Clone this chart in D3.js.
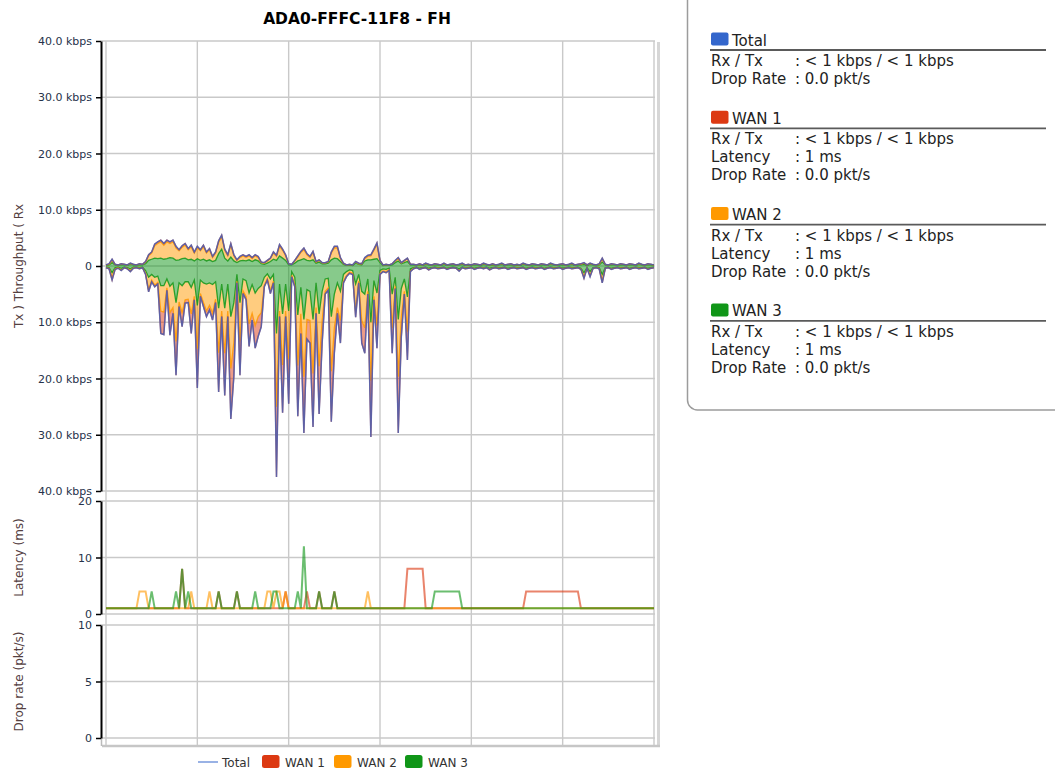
<!DOCTYPE html>
<meta charset="utf-8">
<style>
body { margin: 0; background: #fff; }
svg { font-family: "DejaVu Sans", Verdana, sans-serif; }
.grid line { stroke: #c9c9c9; stroke-width: 1.4px; }
.axis path { stroke: #000; stroke-width: 2px; }
.axis line { stroke: #000; stroke-width: 1.5px; }
.axis text { fill: #26324a; font-size: 11px; }
.ytitle { fill: #54403f; font-size: 12px; }
.info text { fill: #222; font-size: 15px; }
</style>
<body>
<svg width="1055" height="770"></svg>
<script src="https://d3js.org/d3.v7.min.js"></script>
<script>
// throughput, Rx side (kbps), one sample every slot on the time axis
var rx3 = [0.1,0.2,0.6,0.2,0.1,0.2,0.2,0.1,0.3,0.2,
  0.1,0.2,0.2,0.4,1.0,1.2,1.4,1.3,1.4,1.2,
  1.3,1.5,1.4,1.0,1.1,1.3,1.4,1.1,1.2,0.9,
  1.3,1.0,1.2,0.9,1.1,0.8,1.0,2.2,3.0,1.4,
  0.9,1.6,0.9,0.6,0.9,1.0,0.9,1.1,0.8,1.1,
  0.9,0.4,0.3,0.5,0.8,1.2,1.0,1.8,1.4,1.0,
  0.2,0.2,0.5,0.9,1.1,1.3,1.0,0.9,1.1,0.5,
  0.7,0.4,0.4,0.5,1.1,1.4,1.3,0.8,0.3,0.1,
  0.2,0.1,0.5,0.3,0.2,0.9,1.1,1.1,1.2,1.3,
  0.6,0.1,0.2,0.1,0.2,0.6,0.9,0.4,0.6,0.8,
  0.2,
  0.2,0.1,0.2,0.1,0.3,0.2,0.1,0.2,0.2,0.1,
  0.3,0.1,0.2,0.2,0.1,0.2,0.3,0.1,0.2,0.1,
  0.2,0.2,0.1,0.3,0.2,0.1,0.2,0.1,0.2,0.3,
  0.1,0.2,0.2,0.1,0.2,0.1,0.3,0.2,0.1,0.2,
  0.2,0.1,0.2,0.2,0.1,0.3,0.2,0.1,0.2,0.2,
  0.1,0.2,0.3,0.1,0.2,0.2,0.3,0.1,0.3,0.2,
  0.1,0.2,0.7,0.2,0.1,0.2,0.2,0.1,0.2,0.2,
  0.1,0.2,0.2,0.1,0.3,0.2,0.1,0.2,0.2,0.1];
var rx2 = [0.1,0.1,0.4,0.1,0.1,0.1,0.1,0.1,0.1,0.1,
  0.1,0.1,0.1,0.3,0.8,1.1,2.2,2.7,2.9,2.5,
  3.0,2.5,2.9,2.2,1.6,2.0,2.3,1.8,2.2,1.4,
  1.9,1.7,2.2,1.4,1.8,0.7,1.3,2.0,2.2,1.4,
  0.9,2.1,0.9,0.4,0.6,0.8,0.6,0.7,0.5,0.7,
  0.6,0.2,0.2,0.4,0.5,1.1,0.7,1.7,1.4,0.8,
  0.2,0.1,0.4,0.7,1.3,1.6,1.0,0.6,1.3,0.2,
  0.3,0.1,0.1,0.2,1.2,1.8,1.9,0.5,0.1,0.1,
  0.1,0.1,0.2,0.1,0.2,0.4,0.6,0.7,1.6,2.5,
  0.3,0.1,0.1,0.1,0.2,0.3,0.4,0.1,0.3,0.5,
  0.1,
  0.1,0.1,0.1,0.1,0.1,0.1,0.1,0.1,0.1,0.1,
  0.1,0.1,0.1,0.1,0.1,0.1,0.1,0.1,0.1,0.1,
  0.1,0.1,0.1,0.1,0.1,0.1,0.1,0.1,0.1,0.1,
  0.1,0.1,0.1,0.1,0.1,0.1,0.1,0.1,0.1,0.1,
  0.1,0.1,0.1,0.1,0.1,0.1,0.1,0.1,0.1,0.1,
  0.1,0.1,0.1,0.1,0.1,0.1,0.2,0.1,0.1,0.1,
  0.1,0.1,0.5,0.1,0.1,0.1,0.1,0.1,0.1,0.1,
  0.1,0.1,0.1,0.1,0.1,0.1,0.1,0.1,0.1,0.1];
var rx1 = [0,0.1,0.2,0,0,0.1,0,0,0.1,0,
  0,0.1,0,0.1,0.2,0.2,0.3,0.3,0.3,0.3,
  0.3,0.3,0.3,0.3,0.2,0.3,0.3,0.2,0.3,0.2,
  0.3,0.2,0.3,0.2,0.2,0.2,0.2,0.3,0.3,0.2,
  0.2,0.3,0.2,0.1,0.2,0.2,0.2,0.2,0.2,0.2,
  0.2,0.1,0.1,0.1,0.1,0.2,0.2,0.3,0.2,0.2,
  0,0,0.1,0.2,0.2,0.3,0.2,0.2,0.2,0.1,
  0.1,0.1,0.1,0.1,0.2,0.3,0.3,0.2,0.1,0,
  0,0,0.1,0.1,0,0.2,0.2,0.2,0.2,0.3,
  0.1,0,0,0,0,0.1,0.2,0.1,0.1,0.1,
  0,
  0,0,0.1,0,0.1,0,0,0.1,0,0,
  0.1,0,0,0.1,0,0,0.1,0,0,0,
  0.1,0,0,0.1,0,0,0.1,0,0,0.1,
  0,0,0.1,0,0,0,0.1,0,0,0.1,
  0,0,0.1,0,0,0.1,0,0,0,0.1,
  0,0,0.1,0,0,0.1,0.1,0,0.1,0,
  0,0.1,0.2,0,0,0.1,0,0,0.1,0,
  0,0.1,0,0,0.1,0,0,0.1,0,0];

// throughput, Tx side (kbps, drawn below zero)
var tx3 = [0.2,0.3,1.2,0.3,0.2,0.4,0.2,0.3,0.5,0.2,
  0.2,0.3,0.2,0.8,2.0,1.5,2.0,1.8,3.5,3.5,
  2.3,3.6,3.0,6.5,3.0,3.5,2.8,2.8,3.8,2.5,
  7.0,2.5,3.0,3.2,3.0,3.3,2.8,7.5,3.2,7.5,
  3.2,9.0,6.5,1.5,6.5,2.3,2.6,4.8,3.3,4.8,
  4.0,3.5,2.0,1.4,2.3,1.5,12.0,3.2,8.5,3.2,
  8.0,1.0,2.0,8.7,3.8,9.5,4.2,4.5,9.5,3.0,
  8.5,4.5,2.3,2.2,9.0,5.0,3.0,4.5,1.5,1.0,
  0.7,0.8,3.2,1.5,4.5,5.0,2.3,10.0,2.6,4.8,
  0.8,0.5,0.6,0.4,5.0,2.0,9.5,4.0,2.3,5.5,
  0.5,
  0.3,0.2,0.4,0.3,0.2,0.4,0.3,0.2,0.3,0.3,
  0.2,0.4,0.3,0.2,0.3,0.5,0.2,0.3,0.3,0.2,
  0.4,0.3,0.2,0.3,0.2,0.4,0.3,0.2,0.3,0.3,
  0.2,0.4,0.3,0.2,0.3,0.3,0.2,0.4,0.3,0.2,
  0.3,0.3,0.2,0.4,0.3,0.2,0.3,0.3,0.2,0.4,
  0.3,0.2,0.3,0.3,0.2,0.4,1.2,0.3,1.0,0.3,
  0.2,0.3,1.5,0.3,0.2,0.4,0.3,0.2,0.3,0.3,
  0.2,0.4,0.3,0.2,0.3,0.3,0.2,0.4,0.3,0.2];
var tx2 = [0.1,0.1,0.8,0.2,0.1,0.3,0.1,0.1,0.3,0.1,
  0.1,0.1,0.1,0.5,2.2,1.0,1.4,1.1,4.5,4.7,
  1.6,4.7,4.4,6.9,3.4,4.8,3.2,3.1,4.7,2.9,
  7.7,2.4,3.5,4.8,4.0,5.1,3.1,7.9,4.8,8.0,
  4.8,9.2,7.1,1.2,6.9,2.1,2.8,5.5,5.1,5.8,
  5.0,4.8,1.4,0.8,2.1,1.2,13.0,4.8,9.1,4.8,
  8.5,0.7,1.4,9.0,4.7,10.2,5.3,5.2,9.6,4.4,
  9.3,5.2,2.2,1.7,9.7,6.0,4.4,5.2,1.2,0.7,
  0.4,0.5,4.9,1.2,5.2,6.0,2.2,10.4,2.8,5.8,
  0.5,0.4,0.4,0.3,6.0,1.6,10.2,5.1,2.2,6.2,
  0.4,
  0.1,0.1,0.1,0.1,0.1,0.2,0.1,0.1,0.1,0.1,
  0.1,0.1,0.1,0.1,0.1,0.3,0.1,0.1,0.1,0.1,
  0.1,0.1,0.1,0.1,0.1,0.2,0.1,0.1,0.1,0.1,
  0.1,0.1,0.1,0.1,0.1,0.1,0.1,0.1,0.1,0.1,
  0.1,0.1,0.1,0.1,0.1,0.1,0.1,0.1,0.1,0.1,
  0.1,0.1,0.1,0.1,0.1,0.1,0.7,0.1,0.6,0.1,
  0.1,0.1,1.1,0.1,0.1,0.1,0.1,0.1,0.1,0.1,
  0.1,0.1,0.1,0.1,0.1,0.1,0.1,0.1,0.1,0.1];
var tx1 = [0,0.1,0.5,0.1,0.1,0.1,0,0.1,0.2,0.1,
  0,0.1,0,0.2,0.4,0.3,0.3,0.3,4.0,4.0,
  0.4,4.0,1.0,6.0,0.8,2.5,0.6,0.6,3.5,0.6,
  7.0,0.5,0.7,1.0,0.8,1.2,0.6,7.0,1.0,7.5,
  1.0,9.0,6.0,0.3,6.0,0.5,0.6,4.0,1.2,4.0,
  3.5,2.5,0.3,0.3,0.5,0.3,12.5,1.0,8.5,1.0,
  8.0,0.2,0.3,9.0,3.5,10.0,3.5,4.0,9.5,1.0,
  8.5,4.0,0.5,0.4,9.0,4.5,1.0,4.0,0.3,0.2,
  0.2,0.2,1.0,0.3,4.0,4.5,0.5,10.0,0.6,4.0,
  0.2,0.1,0.2,0.1,4.5,0.4,10.0,3.5,0.5,5.0,
  0.1,
  0.1,0,0.1,0,0,0.1,0,0,0.1,0,
  0,0.1,0,0,0,0.1,0,0.1,0,0,
  0.1,0,0,0.1,0,0.1,0,0,0.1,0,
  0,0.1,0,0,0.1,0,0,0.1,0,0,
  0.1,0,0,0.1,0,0,0.1,0,0,0.1,
  0,0,0.1,0,0,0.1,0.3,0,0.3,0,
  0,0.1,0.4,0,0,0.1,0,0,0.1,0,
  0,0.1,0,0,0.1,0,0,0.1,0,0];

// latency (ms) per WAN
var lat1 = [1,1,1,1,1,1,1,1,1,1,1,1,1,1,1,1,1,1,1,1,
  1,1,1,1,1,8,1,1,1,1,1,1,1,1,1,1,1,4,1,1,
  1,1,1,4,1,1,1,1,1,1,1,1,1,1,1,1,1,1,1,4,
  1,1,1,1,1,1,4,1,1,1,4,1,1,1,1,4,1,1,1,1,
  1,1,1,1,1,1,1,1,1,1,1,1,1,1,1,1,1,1,1,8,
  8,8,8,8,8,1,1,1,1,1,1,1,1,1,1,1,1,1,1,1,
  1,1,1,1,1,1,1,1,1,1,1,1,1,1,1,1,1,1,4,4,
  4,4,4,4,4,4,4,4,4,4,4,4,4,4,4,4,1,1,1,1,
  1,1,1,1,1,1,1,1,1,1,1,1,1,1,1,1,1,1,1,1,
  1];
var lat2 = [1,1,1,1,1,1,1,1,1,1,1,4,4,4,1,1,1,1,1,1,
  1,1,1,1,1,1,1,1,4,1,1,1,1,1,4,1,1,1,1,1,
  1,1,1,1,1,1,1,1,1,1,1,1,1,4,4,1,4,4,1,4,
  1,1,1,1,1,1,1,1,1,1,1,1,1,1,1,1,1,1,1,1,
  1,1,1,1,1,1,4,1,1,1,1,1,1,1,1,1,1,1,1,1,
  1,1,1,1,1,1,1,1,1,1,1,1,1,1,1,1,1,1,1,1,
  1,1,1,1,1,1,1,1,1,1,1,1,1,1,1,1,1,1,1,1,
  1,1,1,1,1,1,1,1,1,1,1,1,1,1,1,1,1,1,1,1,
  1,1,1,1,1,1,1,1,1,1,1,1,1,1,1,1,1,1,1,1,
  1];
var lat3 = [1,1,1,1,1,1,1,1,1,1,1,1,1,1,1,4,1,1,1,1,
  1,1,1,4,1,8,1,4,1,1,1,1,1,1,1,1,1,4,1,1,
  1,1,1,4,1,1,1,1,1,4,1,1,1,1,1,4,4,1,1,1,
  1,1,1,4,1,12,1,1,1,1,4,1,1,1,1,4,1,1,1,1,
  1,1,1,1,1,1,1,1,1,1,1,1,1,1,1,1,1,1,1,1,
  1,1,1,1,1,1,1,1,4,4,4,4,4,4,4,4,4,1,1,1,
  1,1,1,1,1,1,1,1,1,1,1,1,1,1,1,1,1,1,1,1,
  1,1,1,1,1,1,1,1,1,1,1,1,1,1,1,1,1,1,1,1,
  1,1,1,1,1,1,1,1,1,1,1,1,1,1,1,1,1,1,1,1,
  1];

var seriesNames = ["Total", "WAN 1", "WAN 2", "WAN 3"];
var seriesColors = ["#3366cc", "#dc3912", "#ff9900", "#109618"];
var timeTicks = [0, 30, 60, 90, 120, 150, 180];
var thrTicks = [-40, -30, -20, -10, 0, 10, 20, 30, 40];
var latTicks = [0, 10, 20];
var dropTicks = [0, 5, 10];
var infoLabels = [["Rx / Tx", "Drop Rate"],
                  ["Rx / Tx", "Latency", "Drop Rate"],
                  ["Rx / Tx", "Latency", "Drop Rate"],
                  ["Rx / Tx", "Latency", "Drop Rate"]];
var infoValues = [["< 1 kbps / < 1 kbps", "0.0 pkt/s"],
                  ["< 1 kbps / < 1 kbps", "1 ms", "0.0 pkt/s"],
                  ["< 1 kbps / < 1 kbps", "1 ms", "0.0 pkt/s"],
                  ["< 1 kbps / < 1 kbps", "1 ms", "0.0 pkt/s"]];

var svg = d3.select("svg");

var x = d3.scaleLinear().domain([0, 180]).range([106, 654]),
    yT = d3.scaleLinear().domain([-40, 40]).range([491, 41]),
    yL = d3.scaleLinear().domain([0, 20]).range([614, 501]),
    yD = d3.scaleLinear().domain([0, 10]).range([738, 625]);

var axisX = 101, gridRight = 655;

// frame shadow
svg.append("line").attr("x1", 658.5).attr("x2", 658.5).attr("y1", 42).attr("y2", 747)
    .attr("stroke", "#d6d6d6").attr("stroke-width", 3);
svg.append("line").attr("x1", 102).attr("x2", 660).attr("y1", 746).attr("y2", 746)
    .attr("stroke", "#c6c6c6").attr("stroke-width", 2.5);
svg.append("line").attr("x1", axisX + 0.5).attr("x2", axisX + 0.5).attr("y1", 738).attr("y2", 746)
    .attr("stroke", "#bbb").attr("stroke-width", 1.5);

// grid
var grid = svg.append("g").attr("class", "grid");
grid.selectAll(".v").data(timeTicks).enter().append("line")
    .attr("x1", function(d) { return x(d); }).attr("x2", function(d) { return x(d); })
    .attr("y1", 41).attr("y2", 745);
[[yT, thrTicks], [yL, latTicks], [yD, dropTicks]].forEach(function(p) {
  grid.selectAll(null).data(p[1]).enter().append("line")
      .attr("x1", axisX).attr("x2", gridRight)
      .attr("y1", function(d) { return p[0](d); }).attr("y2", function(d) { return p[0](d); });
});

// throughput stacks
var keys = ["w3", "w2", "w1"];
var layerColor = {w3: "#109618", w2: "#ff9900", w1: "#dc3912"};
var idx = d3.range(rx3.length);
var stack = d3.stack().keys(keys);
var rxStack = stack(idx.map(function(i) { return {w3: rx3[i], w2: rx2[i], w1: rx1[i]}; }));
var txStack = stack(idx.map(function(i) { return {w3: tx3[i], w2: tx2[i], w1: tx1[i]}; }));

var thr = svg.append("g");
[[rxStack, 1], [txStack, -1]].forEach(function(p) {
  var s = p[1];
  var area = d3.area()
      .x(function(d, i) { return x(i); })
      .y0(function(d) { return yT(s * d[0]); })
      .y1(function(d) { return yT(s * d[1]); });
  thr.selectAll(null).data(p[0]).enter().append("path")
      .attr("d", area)
      .attr("fill", function(d) { return layerColor[d.key]; })
      .attr("fill-opacity", 0.5);
});
[[rxStack, 1], [txStack, -1]].forEach(function(p) {
  var s = p[1];
  var line = d3.line()
      .x(function(d, i) { return x(i); })
      .y(function(d) { return yT(s * d[1]); });
  thr.selectAll(null).data(p[0]).enter().append("path")
      .attr("d", line)
      .attr("fill", "none")
      .attr("stroke", function(d) { return layerColor[d.key]; })
      .attr("stroke-opacity", 0.85)
      .attr("stroke-width", 1.3);
  // total = top of the stack
  thr.append("path")
      .attr("d", line(p[0][p[0].length - 1]))
      .attr("fill", "none")
      .attr("stroke", seriesColors[0])
      .attr("stroke-opacity", 0.75)
      .attr("stroke-width", 1.5);
});

// latency
var latLine = d3.line()
    .x(function(d, i) { return x(i); })
    .y(function(d) { return yL(d); });
svg.append("g").selectAll("path").data([lat1, lat2, lat3]).enter().append("path")
    .attr("d", latLine)
    .attr("fill", "none")
    .attr("stroke", function(d, i) { return seriesColors[i + 1]; })
    .attr("stroke-opacity", 0.62)
    .attr("stroke-width", 2);

// axes
function kbps(d) { return d === 0 ? "0" : Math.abs(d).toFixed(1) + " kbps"; }
[[yT, thrTicks, kbps], [yL, latTicks, d3.format("d")], [yD, dropTicks, d3.format("d")]].forEach(function(p) {
  var g = svg.append("g")
      .attr("class", "axis")
      .attr("transform", "translate(" + axisX + ",0)")
      .call(d3.axisLeft(p[0]).tickValues(p[1]).tickSize(5).tickSizeOuter(0).tickPadding(4).tickFormat(p[2]));
  g.attr("font-family", null).attr("font-size", null);
});

svg.append("text").attr("class", "ytitle")
    .attr("transform", "translate(22.5," + yT(0) + ") rotate(-90)")
    .attr("text-anchor", "middle").text("Tx ) Throughput ( Rx");
svg.append("text").attr("class", "ytitle")
    .attr("transform", "translate(22.5," + (yL(0) + yL(20)) / 2 + ") rotate(-90)")
    .attr("text-anchor", "middle").text("Latency (ms)");
svg.append("text").attr("class", "ytitle")
    .attr("transform", "translate(22.5," + (yD(0) + yD(10)) / 2 + ") rotate(-90)")
    .attr("text-anchor", "middle").text("Drop rate (pkt/s)");

// title
svg.append("text")
    .attr("x", 357).attr("y", 23.5)
    .attr("text-anchor", "middle")
    .attr("font-weight", "bold").attr("font-size", "15.5px")
    .attr("fill", "#000")
    .text("ADA0-FFFC-11F8 - FH");

// bottom legend
var legend = svg.append("g").attr("font-size", "12px");
var legX = [198, 262, 334, 405];
seriesNames.forEach(function(name, i) {
  var gx = legX[i];
  if (i === 0) {
    legend.append("line").attr("x1", gx).attr("x2", gx + 20).attr("y1", 762).attr("y2", 762)
        .attr("stroke", seriesColors[0]).attr("stroke-opacity", 0.5).attr("stroke-width", 2);
    legend.append("text").attr("x", gx + 24).attr("y", 766.5).attr("fill", "#333").text(name);
  } else {
    legend.append("rect").attr("x", gx).attr("y", 755).attr("width", 17.5).attr("height", 13)
        .attr("rx", 2.5).attr("fill", seriesColors[i]);
    legend.append("text").attr("x", gx + 23).attr("y", 766.5).attr("fill", "#333").text(name);
  }
});

// info panel
var info = svg.append("g").attr("class", "info");
info.append("rect").attr("x", 687.5).attr("y", -12).attr("width", 420).attr("height", 422)
    .attr("rx", 10).attr("fill", "#fff").attr("stroke", "#9c9c9c").attr("stroke-width", 1.5);
var h = 45.5;
seriesNames.forEach(function(name, i) {
  info.append("rect").attr("x", 711).attr("y", h - 13).attr("width", 17.5).attr("height", 13)
      .attr("rx", 2).attr("fill", seriesColors[i]);
  info.append("text").attr("x", 732).attr("y", h).text(name);
  info.append("line").attr("x1", 710).attr("x2", 1046).attr("y1", h + 4.5).attr("y2", h + 4.5)
      .attr("stroke", "#5a5a5a").attr("stroke-width", 1.8);
  var ry = h + 20.5;
  infoLabels[i].forEach(function(lab, j) {
    info.append("text").attr("x", 711).attr("y", ry).text(lab);
    info.append("text").attr("x", 795).attr("y", ry).text(": " + infoValues[i][j]);
    ry += 18;
  });
  h = ry - 18 + 39.8;
});
</script>
</body>
